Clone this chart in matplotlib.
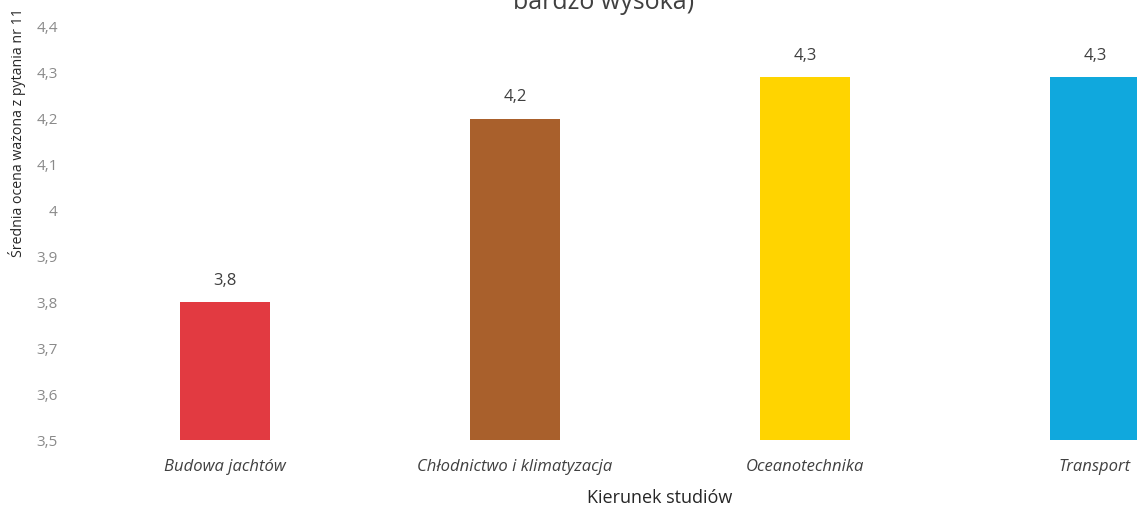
import matplotlib
matplotlib.use("Agg")
import matplotlib.pyplot as plt

categories = ["Budowa jachtów", "Chłodnictwo i klimatyzacja", "Oceanotechnika", "Transport"]
values = [3.8, 4.2, 4.29, 4.29]
value_labels = ["3,8", "4,2", "4,3", "4,3"]
colors = ["#E23A41", "#A9602C", "#FFD400", "#10A8DD"]
yticks = [3.5, 3.6, 3.7, 3.8, 3.9, 4.0, 4.1, 4.2, 4.3, 4.4]
ytick_labels = ["3,5", "3,6", "3,7", "3,8", "3,9", "4", "4,1", "4,2", "4,3", "4,4"]

plt.rcParams['font.family'] = ['Open Sans', 'DejaVu Sans']

fig = plt.figure(figsize=(11.37, 5.08), dpi=100)
W, H = 1137, 508
left, right, top, bottom = 80, 1240, 27, 440
ax = fig.add_axes([left / W, 1 - bottom / H, (right - left) / W, (bottom - top) / H])

x = list(range(len(categories)))
ax.bar(x, [v - 3.5 for v in values], bottom=3.5, width=0.31, color=colors)
for xi, v, lab in zip(x, values, value_labels):
    ax.text(xi, v + 0.03, lab, ha="center", va="bottom", fontsize=12, color="#404040")

ax.set_xlim(-0.5, len(categories) - 0.5)
ax.set_ylim(3.5, 4.4)
ax.set_yticks(yticks)
ax.set_yticklabels(ytick_labels, fontsize=11, color="#8a8a8a")
ax.set_xticks(x)
ax.set_xticklabels(categories, fontsize=12, style="italic", color="#404040")
ax.tick_params(axis="both", length=0)
ax.tick_params(axis="y", pad=16)
ax.tick_params(axis="x", pad=14)
for s in ax.spines.values():
    s.set_visible(False)

fig.text(660 / W, 1 - 498 / H, "Kierunek studiów", ha="center", va="center", fontsize=13, color="#262626")
fig.text(17 / W, 1 - 133 / H, "Średnia ocena ważona z pytania nr 11", ha="center", va="center",
         rotation=90, fontsize=10.2, color="#262626")
fig.text(604 / W, 1 - 9 / H, "bardzo wysoka)", ha="center", va="baseline", fontsize=18, color="#404040")

fig.savefig("out.png", dpi=100)
